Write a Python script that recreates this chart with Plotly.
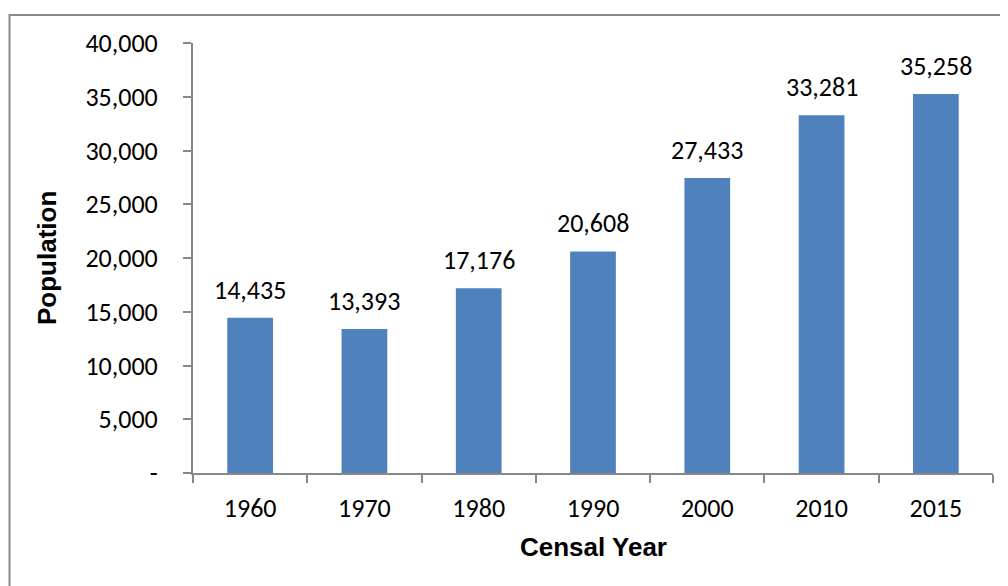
import plotly.graph_objects as go

years = ["1960", "1970", "1980", "1990", "2000", "2010", "2015"]
population = [14435, 13393, 17176, 20608, 27433, 33281, 35258]
y_tick_vals = [0, 5000, 10000, 15000, 20000, 25000, 30000, 35000, 40000]
y_tick_text = ["-", "5,000", "10,000", "15,000", "20,000", "25,000", "30,000", "35,000", "40,000"]

FONT = "Calibri, Carlito, Lato, sans-serif"
GRAY = "#878787"

fig = go.Figure()
fig.add_trace(go.Bar(
    x=years, y=population,
    marker=dict(color="#4F81BD", line=dict(width=0)),
    hoverinfo="skip",
))

annotations = []
for i, v in enumerate(population):
    annotations.append(dict(
        x=i, y=v, xref="x", yref="y", text=f"{v:,}", showarrow=False,
        yanchor="bottom", yshift=10, font=dict(family=FONT, size=26, color="#000"),
    ))
annotations.append(dict(
    x=0.5, y=-0.172, xref="paper", yref="paper", text="<b>Censal Year</b>",
    showarrow=False, xanchor="center", yanchor="middle",
    font=dict(family="Liberation Sans, Arial, sans-serif", size=26, color="#000"),
))
annotations.append(dict(
    x=-0.1825, y=0.5, xref="paper", yref="paper", text="<b>Population</b>",
    showarrow=False, xanchor="center", yanchor="middle", textangle=-90,
    font=dict(family="Liberation Sans, Arial, sans-serif", size=26, color="#000"),
))

fig.update_layout(
    width=1000, height=578,
    margin=dict(l=185, r=15, t=35, b=113, autoexpand=False),
    paper_bgcolor="white", plot_bgcolor="white",
    showlegend=False,
    bargap=0.6,
    annotations=annotations,
    shapes=[dict(
        type="rect", xref="paper", yref="paper",
        x0=(9.5 - 193) / 800, x1=(1012 - 193) / 800,
        y0=(473 - 592) / 430, y1=(473 - 15) / 430,
        line=dict(color=GRAY, width=2), fillcolor="rgba(0,0,0,0)", layer="below",
    )],
    xaxis=dict(
        type="category", range=[-0.5, 6.5], showgrid=False, showline=True,
        linecolor=GRAY, linewidth=2,
        ticks="outside", tickson="boundaries", ticklen=8, tickcolor=GRAY, tickwidth=2,
        tickfont=dict(family=FONT, size=26, color="#000"), ticklabelstandoff=11,
        tickangle=0, zeroline=False, fixedrange=True,
    ),
    yaxis=dict(
        range=[0, 40000], showgrid=False, showline=True, linecolor=GRAY, linewidth=2,
        tickvals=y_tick_vals, ticktext=y_tick_text,
        ticks="outside", ticklen=8, tickcolor=GRAY, tickwidth=2,
        tickfont=dict(family=FONT, size=26, color="#000"), ticklabelstandoff=20,
        zeroline=False, fixedrange=True,
    ),
)

fig.write_html("out.html")
